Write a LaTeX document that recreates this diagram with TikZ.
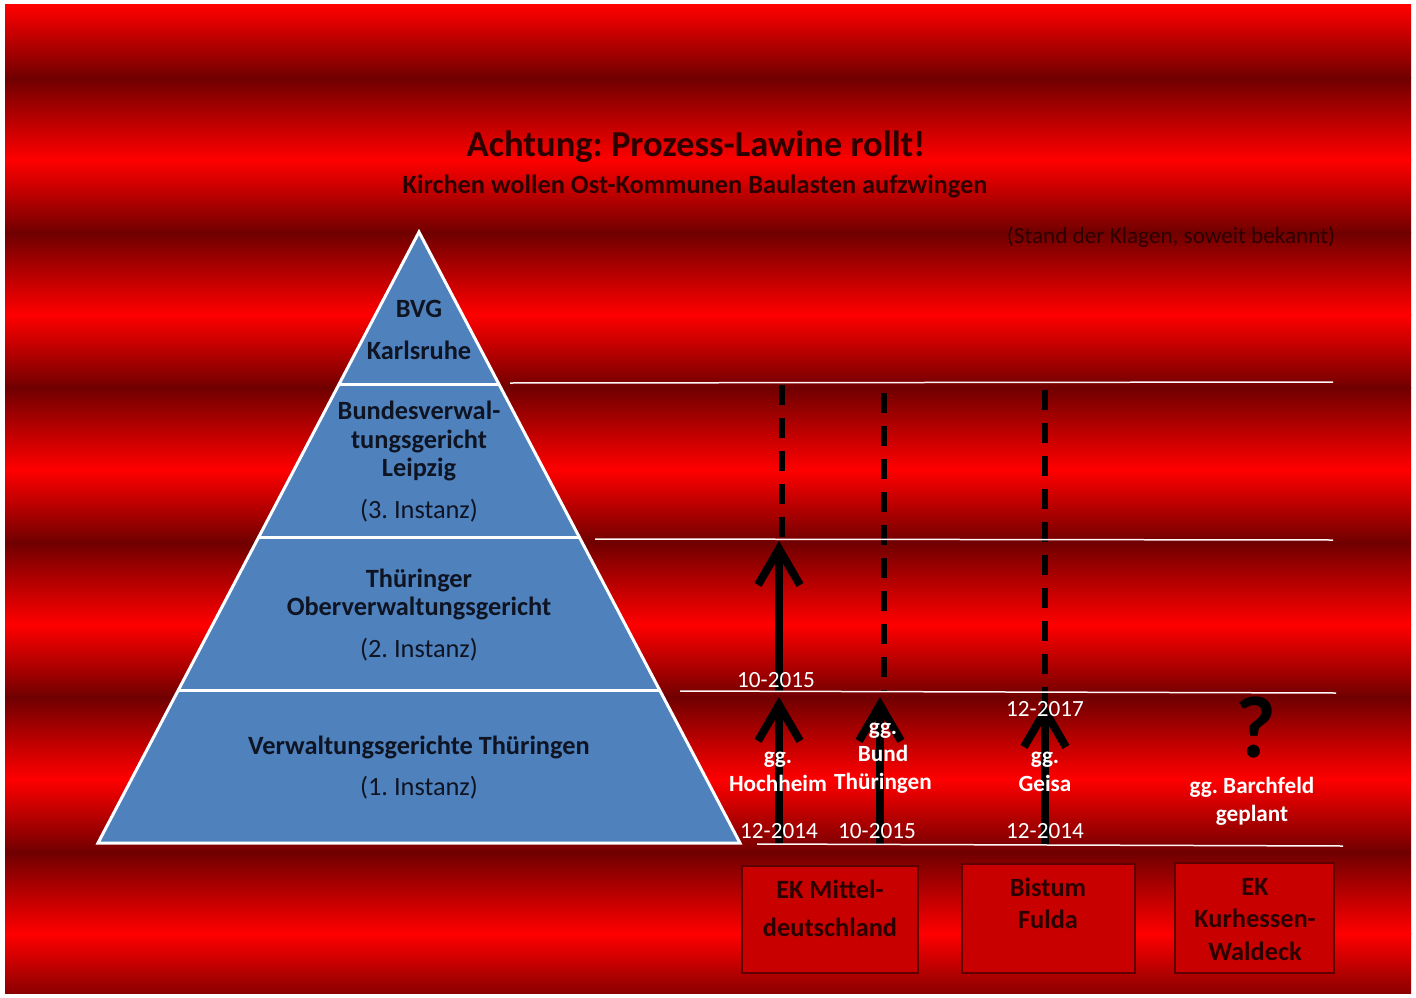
\documentclass[tikz,border=0pt]{standalone}
\usepackage{fontspec}
\setmainfont{Carlito}
\usetikzlibrary{arrows.meta,calc}
\definecolor{bgbright}{RGB}{255,0,0}
\definecolor{bgdark}{RGB}{112,0,0}
\definecolor{pyrblue}{RGB}{79,129,189}
\definecolor{boxred}{RGB}{200,0,0}
\definecolor{boxline}{RGB}{95,0,0}
\definecolor{darktext}{RGB}{45,0,0}
\definecolor{pyrtext}{RGB}{15,20,35}
\frenchspacing
\tikzset{
	stufe/.style={white, line width=0.06cm},
	linie/.style={white!85!pink, line width=0.03cm},
	weg/.style={line width=0.16cm, -{Straight Barb[length=0.72cm,width=0.84cm]}},
	offen/.style={line width=0.11cm, dash pattern=on 0.4cm off 0.26cm},
	ebene/.style={font=\bfseries\fontsize{15}{16.4}\selectfont, text=pyrtext, align=center, inner sep=0pt},
	instanz/.style={font=\fontsize{15}{16.4}\selectfont, text=pyrtext, inner sep=0pt},
	klage/.style={font=\bfseries\fontsize{13.2}{15.8}\selectfont, text=white, align=center, inner sep=0pt},
	datum/.style={font=\fontsize{13.2}{15.8}\selectfont, text=white, inner sep=0pt},
	kirche/.style={draw=boxline, fill=boxred, line width=0.03cm},
	kirchtext/.style={font=\bfseries\fontsize{15}{18.6}\selectfont, text=darktext, align=center, inner sep=0pt}
}
\begin{document}
\begin{tikzpicture}[x=0.02cm, y=-0.02cm]
	\useasboundingbox (0,0) rectangle (1416,997);
	\fill[white] (0,0) rectangle (1416,997);
	\begin{scope}
		\clip (5,5) rectangle (1411,993);
		\foreach \k in {0,...,6} {
			\shade[top color=bgbright, bottom color=bgdark] (5,{5+154.8*\k}) rectangle (1411,{78.5+154.8*\k});
			\shade[top color=bgdark, bottom color=bgbright] (5,{78+154.8*\k}) rectangle (1411,{160.3+154.8*\k});
		}
	\end{scope}

	\node[font=\bfseries\fontsize{20.8}{24}\selectfont, text=darktext] (t1) at (696,147) {Achtung: Prozess-Lawine rollt!};
	\node[font=\bfseries\fontsize{15}{18}\selectfont, text=darktext] (t2) at (695,186) {Kirchen wollen Ost-Kommunen Baulasten aufzwingen};
	\node[font=\fontsize{13.2}{16}\selectfont, text=darktext] (t3) at (1171,237) {(Stand der Klagen, soweit bekannt)};

	\coordinate (p0) at (419,232);
	\coordinate (pl) at (98,843);
	\coordinate (pr) at (740,843);
	\fill[pyrblue] (p0) -- (pl) -- (pr) -- cycle;
	\foreach \f in {0.25,0.5,0.75}
		\draw[stufe] ($(p0)!\f!(pl)$) -- ($(p0)!\f!(pr)$);
	\draw[stufe] (p0) -- (pl) -- (pr) -- cycle;

	\node[ebene] (s1) at (419,309) {BVG};
	\node[ebene] (s2) at (419,350) {Karlsruhe};
	\node[ebene] (s3) at (419,441) {Bundesverwal-\\tungsgericht\\Leipzig};
	\node[instanz] (s4) at (419,511) {(3. Instanz)};
	\node[ebene] (s5) at (419,594.5) {Thüringer\\Oberverwaltungsgericht};
	\node[instanz] (s6) at (419,650) {(2. Instanz)};
	\node[ebene] (s7) at (419,747) {Verwaltungsgerichte Thüringen};
	\node[instanz] (s8) at (419,788) {(1. Instanz)};

	\coordinate (a1) at (779,845);
	\coordinate (b1) at (779,697);
	\coordinate (c1) at (779,692);
	\coordinate (d1) at (779,541);
	\coordinate (e1) at (782,385);
	\coordinate (f1) at (782,540);
	\coordinate (a2) at (880,845);
	\coordinate (b2) at (880,697);
	\coordinate (e2) at (884,393);
	\coordinate (f2) at (884,692);
	\coordinate (a3) at (1045,845);
	\coordinate (b3) at (1045,703);
	\coordinate (e3) at (1045,390);
	\coordinate (f3) at (1045,704);
	\draw[weg] (a1) -- (b1);
	\draw[weg] (c1) -- (d1);
	\draw[offen] (e1) -- (f1);
	\draw[weg] (a2) -- (b2);
	\draw[offen] (e2) -- (f2);
	\draw[weg] (a3) -- (b3);
	\draw[offen] (e3) -- (f3);

	\coordinate (l1) at (510,383);
	\coordinate (r1) at (1333,382);
	\coordinate (l2) at (595,539);
	\coordinate (r2) at (1333,540);
	\coordinate (l3) at (680,691);
	\coordinate (r3) at (1336,693);
	\coordinate (l4) at (757,844);
	\coordinate (r4) at (1343,846);
	\draw[linie] (l1) -- (r1);
	\draw[linie] (l2) -- (r2);
	\draw[linie] (l3) -- (r3);
	\draw[linie] (l4) -- (r4);

	\node[datum] (k1) at (776,680) {10-2015};
	\node[klage] (k2) at (778,772) {gg.\\Hochheim};
	\node[datum] (k3) at (779,831) {12-2014};
	\node[klage] (k4) at (883,758) {gg.\\Bund\\Thüringen};
	\node[datum] (k5) at (877,831) {10-2015};
	\node[datum] (k6) at (1045,709) {12-2017};
	\node[klage] (k7) at (1045,772) {gg.\\Geisa};
	\node[datum] (k8) at (1045,831) {12-2014};
	\node[font=\bfseries\fontsize{50}{54}\selectfont, inner sep=0pt, text depth=0pt, anchor=base] (k9) at (1256,757) {?};
	\node[klage] (k10) at (1252,801) {gg. Barchfeld\\geplant};

	\node[kirche, minimum width=3.52cm, minimum height=2.14cm] (ek1) at (830,919.5) {};
	\node[kirche, minimum width=3.46cm, minimum height=2.18cm] (ek2) at (1048.5,918.5) {};
	\node[kirche, minimum width=3.18cm, minimum height=2.2cm] (ek3) at (1254.5,918) {};
	\node[kirchtext, font=\bfseries\fontsize{15}{21.5}\selectfont] (ek1t) at (830,908) {EK Mittel-\\deutschland};
	\node[kirchtext] (ek2t) at (1048,903.5) {Bistum\\Fulda};
	\node[kirchtext] (ek3t) at (1255,919.5) {EK\\Kurhessen-\\Waldeck};
\end{tikzpicture}
\end{document}
